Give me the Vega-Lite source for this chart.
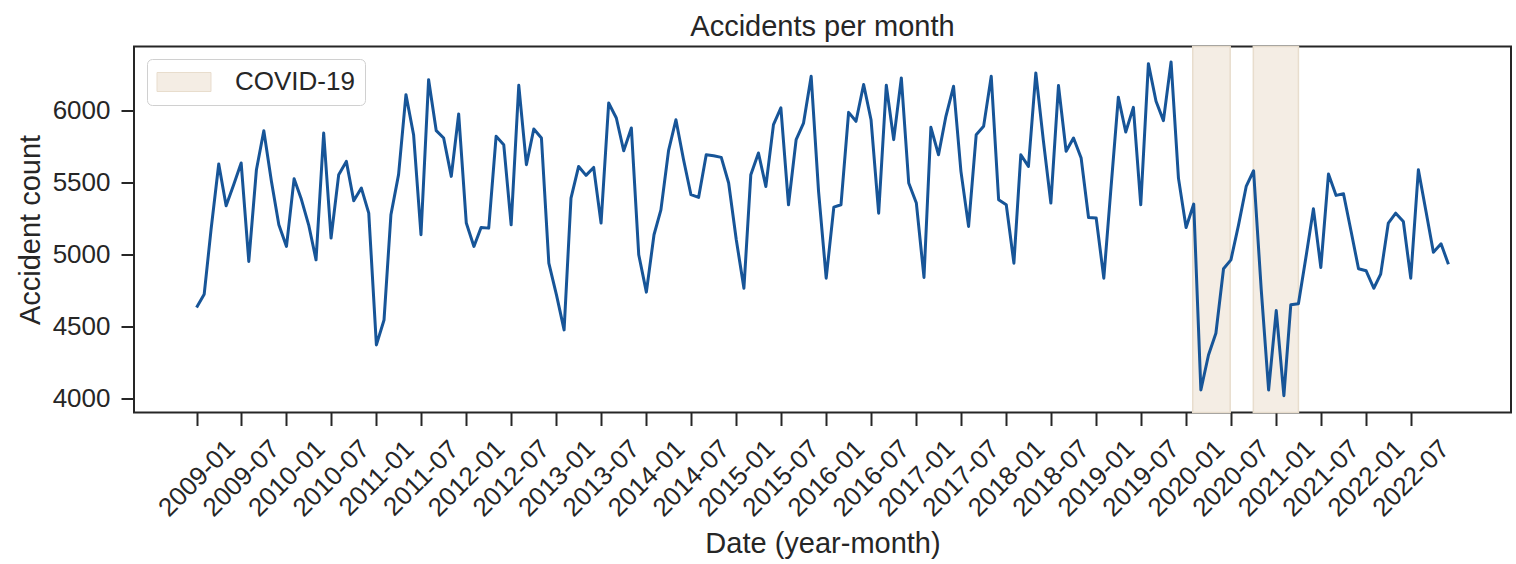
{
  "$schema": "https://vega.github.io/schema/vega-lite/v6.json",
  "width": 1377,
  "height": 366,
  "autosize": {"type": "none"},
  "padding": {"left": 134, "top": 46.5, "right": 5, "bottom": 151.5},
  "background": "white",
  "title": {"text": "Accidents per month", "fontSize": 29, "font": "Liberation Sans", "fontWeight": "normal", "color": "#262626", "anchor": "middle", "frame": "group", "baseline": "top", "offset": 4},
  "config": {
    "view": {"stroke": "#262626", "strokeWidth": 2},
    "axis": {
      "domain": false, "grid": false,
      "tickColor": "#262626", "tickWidth": 2, "tickSize": 13,
      "labelFont": "Liberation Sans", "labelFontSize": 26, "labelColor": "#262626",
      "titleFont": "Liberation Sans", "titleFontSize": 29, "titleFontWeight": "normal", "titleColor": "#262626"
    }
  },
  "datasets": {
    "monthly": [
      {"date":"2009-01-01","count":4634},{"date":"2009-02-01","count":4727},{"date":"2009-03-01","count":5178},{"date":"2009-04-01","count":5630},
      {"date":"2009-05-01","count":5340},{"date":"2009-06-01","count":5488},{"date":"2009-07-01","count":5637},{"date":"2009-08-01","count":4954},
      {"date":"2009-09-01","count":5590},{"date":"2009-10-01","count":5861},{"date":"2009-11-01","count":5509},{"date":"2009-12-01","count":5208},
      {"date":"2010-01-01","count":5058},{"date":"2010-02-01","count":5528},{"date":"2010-03-01","count":5393},{"date":"2010-04-01","count":5208},
      {"date":"2010-05-01","count":4965},{"date":"2010-06-01","count":5845},{"date":"2010-07-01","count":5116},{"date":"2010-08-01","count":5556},
      {"date":"2010-09-01","count":5648},{"date":"2010-10-01","count":5375},{"date":"2010-11-01","count":5463},{"date":"2010-12-01","count":5289},
      {"date":"2011-01-01","count":4375},{"date":"2011-02-01","count":4548},{"date":"2011-03-01","count":5278},{"date":"2011-04-01","count":5556},
      {"date":"2011-05-01","count":6111},{"date":"2011-06-01","count":5833},{"date":"2011-07-01","count":5139},{"date":"2011-08-01","count":6215},
      {"date":"2011-09-01","count":5861},{"date":"2011-10-01","count":5810},{"date":"2011-11-01","count":5544},{"date":"2011-12-01","count":5977},
      {"date":"2012-01-01","count":5220},{"date":"2012-02-01","count":5058},{"date":"2012-03-01","count":5190},{"date":"2012-04-01","count":5185},
      {"date":"2012-05-01","count":5822},{"date":"2012-06-01","count":5764},{"date":"2012-07-01","count":5208},{"date":"2012-08-01","count":6176},
      {"date":"2012-09-01","count":5625},{"date":"2012-10-01","count":5873},{"date":"2012-11-01","count":5810},{"date":"2012-12-01","count":4942},
      {"date":"2013-01-01","count":4722},{"date":"2013-02-01","count":4479},{"date":"2013-03-01","count":5393},{"date":"2013-04-01","count":5613},
      {"date":"2013-05-01","count":5551},{"date":"2013-06-01","count":5606},{"date":"2013-07-01","count":5220},{"date":"2013-08-01","count":6053},
      {"date":"2013-09-01","count":5949},{"date":"2013-10-01","count":5722},{"date":"2013-11-01","count":5880},{"date":"2013-12-01","count":5000},
      {"date":"2014-01-01","count":4741},{"date":"2014-02-01","count":5139},{"date":"2014-03-01","count":5312},{"date":"2014-04-01","count":5722},
      {"date":"2014-05-01","count":5937},{"date":"2014-06-01","count":5660},{"date":"2014-07-01","count":5417},{"date":"2014-08-01","count":5398},
      {"date":"2014-09-01","count":5694},{"date":"2014-10-01","count":5687},{"date":"2014-11-01","count":5676},{"date":"2014-12-01","count":5498},
      {"date":"2015-01-01","count":5104},{"date":"2015-02-01","count":4768},{"date":"2015-03-01","count":5556},{"date":"2015-04-01","count":5706},
      {"date":"2015-05-01","count":5474},{"date":"2015-06-01","count":5903},{"date":"2015-07-01","count":6019},{"date":"2015-08-01","count":5347},
      {"date":"2015-09-01","count":5799},{"date":"2015-10-01","count":5914},{"date":"2015-11-01","count":6238},{"date":"2015-12-01","count":5440},
      {"date":"2016-01-01","count":4838},{"date":"2016-02-01","count":5331},{"date":"2016-03-01","count":5347},{"date":"2016-04-01","count":5988},
      {"date":"2016-05-01","count":5926},{"date":"2016-06-01","count":6181},{"date":"2016-07-01","count":5937},{"date":"2016-08-01","count":5289},
      {"date":"2016-09-01","count":6176},{"date":"2016-10-01","count":5799},{"date":"2016-11-01","count":6227},{"date":"2016-12-01","count":5498},
      {"date":"2017-01-01","count":5359},{"date":"2017-02-01","count":4843},{"date":"2017-03-01","count":5884},{"date":"2017-04-01","count":5694},
      {"date":"2017-05-01","count":5961},{"date":"2017-06-01","count":6169},{"date":"2017-07-01","count":5579},{"date":"2017-08-01","count":5197},
      {"date":"2017-09-01","count":5833},{"date":"2017-10-01","count":5891},{"date":"2017-11-01","count":6238},{"date":"2017-12-01","count":5382},
      {"date":"2018-01-01","count":5347},{"date":"2018-02-01","count":4942},{"date":"2018-03-01","count":5694},{"date":"2018-04-01","count":5613},
      {"date":"2018-05-01","count":6262},{"date":"2018-06-01","count":5787},{"date":"2018-07-01","count":5359},{"date":"2018-08-01","count":6174},
      {"date":"2018-09-01","count":5718},{"date":"2018-10-01","count":5810},{"date":"2018-11-01","count":5671},{"date":"2018-12-01","count":5259},
      {"date":"2019-01-01","count":5255},{"date":"2019-02-01","count":4838},{"date":"2019-03-01","count":5440},{"date":"2019-04-01","count":6093},
      {"date":"2019-05-01","count":5852},{"date":"2019-06-01","count":6023},{"date":"2019-07-01","count":5347},{"date":"2019-08-01","count":6326},
      {"date":"2019-09-01","count":6065},{"date":"2019-10-01","count":5931},{"date":"2019-11-01","count":6338},{"date":"2019-12-01","count":5532},
      {"date":"2020-01-01","count":5190},{"date":"2020-02-01","count":5352},{"date":"2020-03-01","count":4062},{"date":"2020-04-01","count":4305},
      {"date":"2020-05-01","count":4456},{"date":"2020-06-01","count":4903},{"date":"2020-07-01","count":4965},{"date":"2020-08-01","count":5208},
      {"date":"2020-09-01","count":5474},{"date":"2020-10-01","count":5583},{"date":"2020-11-01","count":4760},{"date":"2020-12-01","count":4062},
      {"date":"2021-01-01","count":4613},{"date":"2021-02-01","count":4023},{"date":"2021-03-01","count":4653},{"date":"2021-04-01","count":4660},
      {"date":"2021-05-01","count":4977},{"date":"2021-06-01","count":5319},{"date":"2021-07-01","count":4912},{"date":"2021-08-01","count":5560},
      {"date":"2021-09-01","count":5412},{"date":"2021-10-01","count":5424},{"date":"2021-11-01","count":5162},{"date":"2021-12-01","count":4903},
      {"date":"2022-01-01","count":4889},{"date":"2022-02-01","count":4768},{"date":"2022-03-01","count":4866},{"date":"2022-04-01","count":5220},
      {"date":"2022-05-01","count":5289},{"date":"2022-06-01","count":5231},{"date":"2022-07-01","count":4838},{"date":"2022-08-01","count":5590},
      {"date":"2022-09-01","count":5301},{"date":"2022-10-01","count":5018},{"date":"2022-11-01","count":5076},{"date":"2022-12-01","count":4935}
    ],
    "covid": [
      {"date": "2020-01-28", "date_end": "2020-06-28", "label": "COVID-19"},
      {"date": "2020-09-30", "date_end": "2021-04-01", "label": "COVID-19"}
    ]
  },
  "encoding": {
    "x": {
      "field": "date", "type": "temporal",
      "scale": {"type": "utc", "domain": [{"year": 2008, "month": 4, "date": 22, "utc": true}, {"year": 2023, "month": 8, "date": 12, "utc": true}]},
      "axis": {
        "title": "Date (year-month)", "format": "%Y-%m",
        "values": [
          {"year":2009,"month":1,"date":1,"utc":true},{"year":2009,"month":7,"date":1,"utc":true},
          {"year":2010,"month":1,"date":1,"utc":true},{"year":2010,"month":7,"date":1,"utc":true},
          {"year":2011,"month":1,"date":1,"utc":true},{"year":2011,"month":7,"date":1,"utc":true},
          {"year":2012,"month":1,"date":1,"utc":true},{"year":2012,"month":7,"date":1,"utc":true},
          {"year":2013,"month":1,"date":1,"utc":true},{"year":2013,"month":7,"date":1,"utc":true},
          {"year":2014,"month":1,"date":1,"utc":true},{"year":2014,"month":7,"date":1,"utc":true},
          {"year":2015,"month":1,"date":1,"utc":true},{"year":2015,"month":7,"date":1,"utc":true},
          {"year":2016,"month":1,"date":1,"utc":true},{"year":2016,"month":7,"date":1,"utc":true},
          {"year":2017,"month":1,"date":1,"utc":true},{"year":2017,"month":7,"date":1,"utc":true},
          {"year":2018,"month":1,"date":1,"utc":true},{"year":2018,"month":7,"date":1,"utc":true},
          {"year":2019,"month":1,"date":1,"utc":true},{"year":2019,"month":7,"date":1,"utc":true},
          {"year":2020,"month":1,"date":1,"utc":true},{"year":2020,"month":7,"date":1,"utc":true},
          {"year":2021,"month":1,"date":1,"utc":true},{"year":2021,"month":7,"date":1,"utc":true},
          {"year":2022,"month":1,"date":1,"utc":true},{"year":2022,"month":7,"date":1,"utc":true}
        ],
        "labelAngle": -45, "labelAlign": "center", "labelBaseline": "middle", "labelPadding": 52.5,
        "labelOverlap": false, "labelBound": false, "labelFlush": false,
        "titleY": 139.5, "titleBaseline": "alphabetic"
      }
    }
  },
  "layer": [
    {
      "data": {"name": "covid"},
      "mark": {"type": "rect", "stroke": "#e8ddcd", "strokeWidth": 1.5, "opacity": 1},
      "encoding": {
        "x2": {"field": "date_end"},
        "fill": {
          "field": "label", "type": "nominal",
          "scale": {"domain": ["COVID-19"], "range": ["#f4ede4"]},
          "legend": {
            "title": null, "orient": "none", "legendX": 13, "legendY": 12.5,
            "symbolType": "M-2.842,-1H2.842V1H-2.842Z", "symbolSize": 361,
            "symbolOffset": 14, "symbolStrokeColor": "#e8ddcd", "symbolStrokeWidth": 1, "symbolOpacity": 1,
            "labelFont": "Liberation Sans", "labelFontSize": 26, "labelColor": "#262626", "labelOffset": 38,
            "padding": 10, "strokeColor": "#d0d0d0", "cornerRadius": 5, "fillColor": "white"
          }
        }
      }
    },
    {
      "data": {"name": "monthly"},
      "mark": {"type": "line", "color": "#175598", "strokeWidth": 3, "strokeJoin": "round"},
      "encoding": {
        "y": {
          "field": "count", "type": "quantitative",
          "scale": {"domain": [3906, 6445], "nice": false, "zero": false},
          "axis": {
            "title": "Accident count", "values": [4000, 4500, 5000, 5500, 6000], "format": "d",
            "labelPadding": 11, "titleX": -94.5, "titleBaseline": "alphabetic"
          }
        }
      }
    }
  ]
}
